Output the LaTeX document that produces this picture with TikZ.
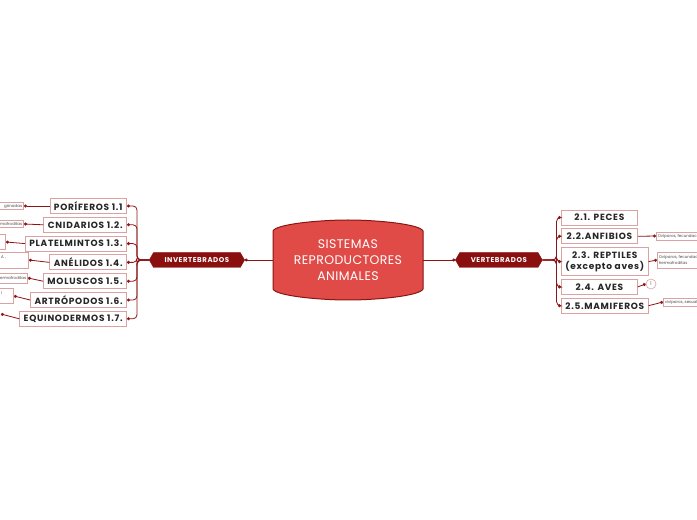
\documentclass[tikz,border=0pt]{standalone}
\usepackage{fontspec}
\setmainfont{Poppins}
\newfontfamily\topicfont[LetterSpace=8]{Poppins}
\newfontfamily\titlefont[LetterSpace=3]{Poppins}
\usetikzlibrary{shapes.symbols, arrows.meta, positioning}
\definecolor{darkred}{HTML}{8B1414}
\definecolor{boxline}{HTML}{D9A3A3}
\definecolor{titlefill}{HTML}{E04B47}
\definecolor{hexfill}{HTML}{8A0F0F}

\begin{document}
\begin{tikzpicture}[
    x=1pt, y=1pt,
    titlebox/.style={minimum width=150pt, minimum height=80pt, text=white, align=center, font=\titlefont\fontsize{12.5}{16}\selectfont},
    groupbox/.style={signal, signal to=west and east, signal pointer angle=120, fill=hexfill, draw=hexfill, text=white, font=\topicfont\fontsize{7}{8}\selectfont\bfseries, minimum height=15pt, inner xsep=11pt, inner ysep=1pt},
    topic/.style={rectangle, draw=boxline, fill=white, line width=0.8pt, font=\topicfont\fontsize{9}{11}\selectfont\bfseries, text=black!85, align=center, minimum height=15pt, minimum width=76pt, inner xsep=4pt, inner ysep=1pt},
    note/.style={rectangle, draw=boxline, fill=white, line width=0.6pt, font=\fontsize{4}{5.5}\selectfont, text=black!70, inner sep=1.5pt},
    branch/.style={draw=darkred, line width=0.8pt, rounded corners=4pt, -{Circle[length=3pt]}}
]
\useasboundingbox (0,0) rectangle (697,520);
\fill[white] (0,0) rectangle (697,520);
\clip (0,0) rectangle (697,520);

% central topic
\draw[fill=titlefill, draw=darkred, line width=1pt]
  (273,289) .. controls (276,296) and (320,300) .. (348,300)
  .. controls (376,300) and (420,296) .. (423,289) -- (423,231)
  .. controls (420,224) and (376,220) .. (348,220)
  .. controls (320,220) and (276,224) .. (273,231) -- cycle;
\node (title) [titlebox] at (348,260) {SISTEMAS\\REPRODUCTORES\\ANIMALES};

\node (inv) [groupbox, left=28pt of title] {INVERTEBRADOS};
\node (vert) [groupbox, right=32pt of title] {VERTEBRADOS};
\draw [branch] (title.west) -- (inv.east);
\draw [branch] (title.east) -- (vert.west);

% invertebrados
\node (por) [topic, anchor=east] at (127,314) {PORÍFEROS 1.1};
\node (cni) [topic, below left=3pt and 0pt of por.south east] {CNIDARIOS 1.2.};
\node (pla) [topic, below left=3pt and 0pt of cni.south east] {PLATELMINTOS 1.3.};
\node (ane) [topic, below left=3pt and 0pt of pla.south east] {ANÉLIDOS 1.4.};
\node (mol) [topic, below left=3pt and 0pt of ane.south east] {MOLUSCOS 1.5.};
\node (art) [topic, below left=3pt and 0pt of mol.south east] {ARTRÓPODOS 1.6.};
\node (equ) [topic, below left=3pt and 0pt of art.south east] {EQUINODERMOS 1.7.};

\draw [branch] (inv.west) -- ++(-12,0) |- (por.east);
\draw [branch] (inv.west) -- ++(-12,0) |- (cni.east);
\draw [branch] (inv.west) -- ++(-12,0) |- (pla.east);
\draw [branch] (inv.west) -- ++(-12,0) |- (ane.east);
\draw [branch] (inv.west) -- ++(-12,0) |- (mol.east);
\draw [branch] (inv.west) -- ++(-12,0) |- (art.east);
\draw [branch] (inv.west) -- ++(-12,0) |- (equ.east);

\node (por-note) [note, anchor=east, text width=40pt, align=right, minimum height=7pt] at (24,314) {gónadas};
\node (cni-note) [note, anchor=east, text width=40pt, align=right, minimum height=7pt] at (24,296) {hermafroditas};
\node (pla-note) [note, anchor=east, text width=30pt, minimum height=15pt] at (6,278) {};
\node (ane-note) [note, anchor=east, text width=26pt, align=left, minimum height=16pt] at (29,260) {A ,\\ ~};
\node (mol-note) [note, anchor=east, text width=40pt, align=right, minimum height=10pt] at (28,242) {hermafroditas};
\node (art-note) [note, anchor=east, text width=11pt, align=left, minimum height=15pt] at (14,224) {l\\ ~};
\coordinate (equ-end) at (1,206);

\draw [branch] (por.west) -- (por-note.east);
\draw [branch] (cni.west) -- (cni-note.east);
\draw [branch] (pla.west) -- (pla-note.east);
\draw [branch] (ane.west) -- (ane-note.east);
\draw [branch] (mol.west) -- (mol-note.east);
\draw [branch] (art.west) -- (art-note.east);
\draw [branch] (equ.west) -- (equ-end);

% vertebrados
\node (pec) [topic, anchor=west] at (561,302.5) {2.1. PECES};
\node (anf) [topic, below right=3pt and 0pt of pec.south west] {2.2.ANFIBIOS};
\node (rep) [topic, below right=3pt and 0pt of anf.south west, minimum height=28pt] {2.3. REPTILES\\(excepto aves)};
\node (ave) [topic, below right=3pt and 0pt of rep.south west] {2.4. AVES};
\node (mam) [topic, below right=3pt and 0pt of ave.south west] {2.5.MAMIFEROS};

\draw [branch] (vert.east) -- ++(14,0) |- (pec.west);
\draw [branch] (vert.east) -- ++(14,0) |- (anf.west);
\draw [branch] (vert.east) -- ++(14,0) |- (rep.west);
\draw [branch] (vert.east) -- ++(14,0) |- (ave.west);
\draw [branch] (vert.east) -- ++(14,0) |- (mam.west);

\node (anf-note) [note, anchor=west, align=left, minimum height=8pt] at (656,284) {Ovíparos, fecundación externa};
\node (rep-note) [note, anchor=west, align=left, minimum height=16pt] at (657,260) {Ovíparos, fecundación interna\\hermafroditas};
\node (ave-note) [circle, draw=boxline, fill=white, line width=0.6pt, minimum size=10pt, inner sep=0pt, font=\fontsize{5}{6}\selectfont, text=black!60] at (651,236) {1};
\node (mam-note) [note, anchor=west, align=left, minimum height=8pt] at (663,218) {vivíparos, sexuales};

\draw [branch] (anf.east) -- (anf-note.west);
\draw [branch] (rep.east) -- (rep-note.west);
\draw [branch] (ave.east) -- (ave-note.west);
\draw [branch] (mam.east) -- (mam-note.west);
\end{tikzpicture}
\end{document}
